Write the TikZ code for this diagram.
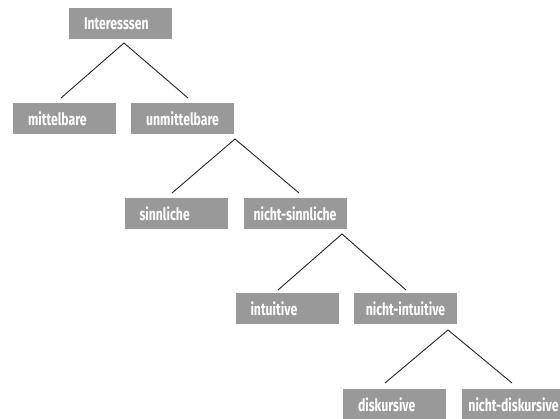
\documentclass[tikz,border=0pt]{standalone}
\usepackage{fontspec}
\setmainfont{Fira Sans}[FakeStretch=0.72]
\begin{document}
\begin{tikzpicture}[x=1pt,y=-1pt,
  boxc/.style={rectangle, fill=boxgray, minimum width=103pt, minimum height=31pt, inner sep=0pt, text=white, font=\fontsize{17}{19}\selectfont\bfseries},
  boxl/.style={boxc, align=left, text width=73pt, inner xsep=15pt},
  conn/.style={draw=black!85, line width=0.9pt}]
\definecolor{boxgray}{RGB}{153,153,153}
\path[use as bounding box, fill=white] (0,0) rectangle (560,418);
\begin{scope}
\clip (0,0) rectangle (560,418);
\node[boxl] (int) at (120.5,23.5) {Interesssen};
\node[boxl] (mit) at (64.5,118.5) {mittelbare};
\node[boxc] (unm) at (182.5,118.5) {unmittelbare};
\node[boxl] (sin) at (176,213.5) {sinnliche};
\node[boxc] (nsin) at (295,213.5) {nicht-sinnliche};
\node[boxl] (intu) at (287,308.5) {intuitive};
\node[boxc] (nint) at (405.5,308.5) {nicht-intuitive};
\node[boxl] (dis) at (394.5,404.5) {diskursive};
\node[boxc] (ndis) at (513.5,404.5) {nicht-diskursive};

\coordinate (a1) at (124,43);
\coordinate (e1l) at (61,98);
\coordinate (e1r) at (188,98);
\coordinate (a2) at (235,139);
\coordinate (e2l) at (172,193);
\coordinate (e2r) at (299,193);
\coordinate (a3) at (342,234);
\coordinate (e3l) at (278,290);
\coordinate (e3r) at (406,290);
\coordinate (a4) at (448,330);
\coordinate (e4l) at (385,383);
\coordinate (e4r) at (512,383);
\draw[conn] (e1l) -- (a1) -- (e1r);
\draw[conn] (e2l) -- (a2) -- (e2r);
\draw[conn] (e3l) -- (a3) -- (e3r);
\draw[conn] (e4l) -- (a4) -- (e4r);
\end{scope}
\end{tikzpicture}
\end{document}
